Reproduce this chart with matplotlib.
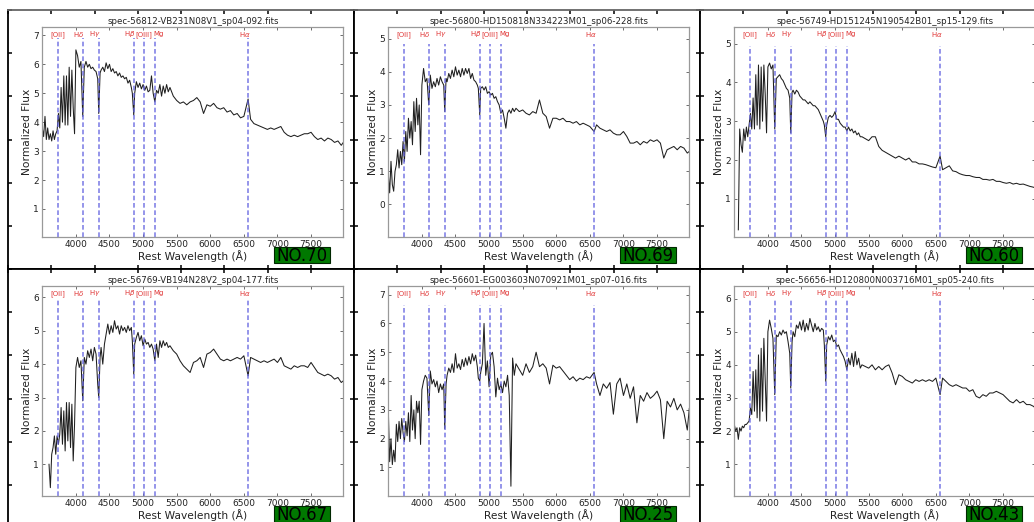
import numpy as np
import matplotlib
matplotlib.use('Agg')
import matplotlib.pyplot as plt
from matplotlib.patches import Rectangle
from matplotlib.ticker import MultipleLocator

nan = np.nan

# rest wavelength grid (A), shared by all six spectra
wave_blue = [3500, 3520, 3540, 3560, 3580, 3600, 3620, 3640, 3660, 3680,
             3700, 3720, 3740, 3760, 3780, 3800, 3820, 3840, 3860, 3880,
             3900, 3920, 3940, 3960, 3980]
wave_mid = [4000, 4025, 4050, 4075, 4102, 4125, 4150, 4175, 4200, 4225,
            4250, 4275, 4300, 4325, 4340, 4360, 4375, 4400, 4425, 4450,
            4475, 4500, 4525, 4550, 4575, 4600, 4625, 4650, 4675, 4700,
            4725, 4750, 4775, 4800, 4825, 4840, 4861, 4875, 4900, 4925,
            4950, 4975, 5000, 5025, 5050, 5075, 5100, 5125, 5150, 5175,
            5200, 5225, 5250, 5275, 5300, 5325, 5350, 5375, 5400]
wave_red = [5450, 5500, 5550, 5600, 5650, 5700, 5750, 5800, 5850, 5900,
            5950, 6000, 6050, 6100, 6150, 6200, 6250, 6300, 6350, 6400,
            6450, 6500, 6563, 6600, 6650, 6700, 6750, 6800, 6850, 6900,
            6950, 7000, 7050, 7100, 7150, 7200, 7250, 7300, 7350, 7400,
            7450, 7500, 7550, 7600, 7650, 7700, 7750, 7800, 7850, 7900,
            7950, 7980]
wave = wave_blue + wave_mid + wave_red

flux_70 = [3.8, 3.5, 4.2, 3.4, 3.8, 3.4, 3.6, 3.35, 3.7, 3.4,
           3.6, 3.7, 4.3, 3.8, 5.2, 4.0, 5.6, 3.9, 5.6, 3.9,
           5.9, 4.2, 5.8, 4.5, 3.6,
           6.5, 6.3, 5.9, 6.1, 4.2, 5.9, 6.1, 5.9, 6.0, 5.85,
           5.9, 5.8, 5.75, 5.5, 4.3, 5.7, 5.8, 5.9, 5.75, 6.05,
           5.85, 6.0, 5.75, 5.85, 5.7, 5.75, 5.6, 5.7, 5.55, 5.6,
           5.5, 5.55, 5.35, 5.45, 5.2, 5.0, 4.25, 5.0, 5.4, 5.2,
           5.35, 5.15, 5.3, 5.1, 5.25, 5.05, 5.1, 5.6, 5.0, 4.7,
           5.1, 5.0, 5.3, 4.9, 5.25, 5.0, 5.3, 5.05, 5.2,
           4.9, 4.75, 4.65, 4.7, 4.6, 4.7, 4.75, 4.85, 4.7, 4.3,
           4.6, 4.55, 4.65, 4.5, 4.45, 4.5, 4.35, 4.4, 4.25, 4.3,
           4.15, 4.2, 4.8, 4.1, 3.95, 3.9, 3.85, 3.8, 3.75, 3.8,
           3.75, 3.8, 3.85, 3.65, 3.55, 3.5, 3.55, 3.5, 3.55, 3.6,
           3.6, 3.65, 3.5, 3.4, 3.45, 3.35, 3.45, 3.4, 3.3, 3.35,
           3.2, 3.3]

flux_69 = [0.93, 0.35, 1.3, 0.6, 0.4, 1.0, 1.2, 1.65, 1.1, 1.6,
           1.2, 1.9, 1.3, 2.2, 1.6, 2.6, 2.0, 2.5, 1.8, 3.1,
           2.2, 3.2, 2.4, 3.0, 1.5,
           3.6, 4.1, 3.7, 3.8, 3.0, 3.9, 3.5, 3.7, 3.55, 3.8,
           3.6, 3.85, 3.7, 3.6, 2.8, 3.8, 3.7, 3.95, 3.8, 4.05,
           3.85, 4.15, 3.9, 4.05, 3.85, 4.1, 3.9, 4.1, 3.95, 4.1,
           3.8, 3.95, 3.75, 3.7, 3.6, 3.5, 2.7, 3.5, 3.55, 3.45,
           3.55, 3.35, 3.4, 3.3, 3.35, 3.2, 3.25, 3.1, 3.0, 2.75,
           2.85, 2.6, 2.3, 2.75, 2.85, 2.75, 2.9, 2.8, 2.9,
           2.8, 2.85, 2.75, 2.7, 2.8, 2.75, 3.15, 2.75, 2.65, 2.3,
           2.6, 2.6, 2.55, 2.6, 2.5, 2.5, 2.45, 2.5, 2.4, 2.45,
           2.4, 2.35, 2.2, 2.4, 2.3, 2.25, 2.2, 2.25, 2.15, 2.1,
           2.1, 2.2, 2.05, 1.85, 1.85, 1.9, 1.8, 1.9, 1.85, 1.95,
           1.9, 1.95, 1.85, 1.4, 1.65, 1.7, 1.75, 1.65, 1.75, 1.7,
           1.55, 1.6]

flux_60 = [nan, nan, nan, 0.2, 2.8, 2.4, 2.2, 2.8, 2.5, 2.85,
           2.6, 2.9, 3.2, 2.8, 3.6, 2.8, 4.2, 2.9, 4.45, 2.8,
           4.4, 3.0, 4.45, 3.7, 2.7,
           4.4, 4.5, 4.35, 4.45, 2.8, 4.1, 4.15, 4.2, 4.1, 4.05,
           3.95, 3.85, 3.8, 3.6, 2.7, 3.75, 3.8, 3.7, 3.8, 3.75,
           3.65, 3.6, 3.55, 3.55, 3.5, 3.45, 3.5, 3.45, 3.4, 3.4,
           3.35, 3.3, 3.2, 3.1, 3.0, 2.9, 2.6, 2.9, 3.1, 3.15,
           3.1, 3.15, 3.25, 3.05, 3.05, 2.95, 2.9, 2.85, 2.85, 2.75,
           2.85, 2.75, 2.8, 2.7, 2.75, 2.65, 2.7, 2.6, 2.6,
           2.55, 2.5, 2.6, 2.6, 2.35, 2.25, 2.2, 2.15, 2.1, 2.05,
           2.1, 2.05, 2.0, 2.05, 1.95, 1.95, 1.9, 1.9, 1.88, 1.85,
           1.82, 1.8, 2.1, 1.75, 1.8, 1.85, 1.72, 1.7, 1.65, 1.62,
           1.6, 1.6, 1.57, 1.55, 1.55, 1.5, 1.5, 1.48, 1.5, 1.45,
           1.45, 1.42, 1.4, 1.42, 1.38, 1.4, 1.37, 1.38, 1.35, 1.32,
           1.3, 1.28]

flux_67 = [nan, nan, nan, nan, nan, 1.0, 0.3, 1.3, 1.5, 1.85,
           1.3, 1.85, 1.6, 1.9, 2.7, 1.6, 2.6, 1.4, 2.85, 1.7,
           2.85, 1.5, 2.8, 1.1, 2.2,
           3.9, 4.2, 3.9, 4.1, 2.9, 4.2, 4.0, 4.4, 4.2, 4.45,
           4.1, 4.5, 4.3, 3.4, 3.0, 4.2, 4.5, 4.0, 4.6, 4.9,
           5.2, 4.9, 5.15, 4.95, 5.3, 5.05, 5.15, 4.9, 5.15, 5.0,
           5.1, 4.95, 5.15, 5.0, 5.1, 4.7, 3.7, 4.6, 4.8, 4.95,
           4.7, 4.85, 4.55, 4.75, 4.6, 4.65, 4.5, 4.6, 4.45, 4.1,
           4.6, 4.2, 4.7, 4.5, 4.7, 4.55, 4.65, 4.5, 4.55,
           4.4, 4.3, 4.1, 3.95, 3.85, 3.75, 4.05, 4.1, 4.2, 3.9,
           4.3, 4.35, 4.45, 4.3, 4.15, 4.1, 4.15, 4.1, 4.15, 4.2,
           4.15, 4.25, 3.65, 4.2, 4.15, 4.1, 4.05, 4.1, 4.05, 4.1,
           4.15, 4.05, 4.2, 3.95, 3.9, 3.85, 3.95, 3.9, 3.95, 3.95,
           3.9, 4.05, 3.9, 3.75, 3.7, 3.65, 3.7, 3.65, 3.55, 3.6,
           3.45, 3.5]

flux_25 = [3.0, 1.2, 2.0, 1.1, 1.6, 1.2, 2.5, 1.9, 2.6, 2.0,
           2.7, 2.2, 1.9, 2.6, 2.1, 2.9, 1.9, 3.5, 2.3, 3.0,
           2.0, 3.3, 2.9, 3.3, 1.8,
           3.7, 4.0, 4.2, 4.1, 2.8, 4.35, 3.9, 4.05, 3.8, 4.0,
           3.6, 3.9, 3.7, 3.9, 2.35, 3.9, 4.2, 4.45, 4.3, 4.6,
           4.3, 4.95, 4.45, 4.6, 4.4, 4.75, 4.5, 4.8, 4.55, 4.85,
           4.6, 4.95, 4.7, 4.9, 4.5, 4.1, 4.0, 4.3, 4.6, 6.0,
           4.2, 4.7, 3.8, 4.9, 5.0, 4.5, 3.45, 4.1, 3.7, 3.9,
           3.6, 4.0, 3.8, 4.2, 3.5, 0.35, 4.8, 4.2, 4.6,
           4.4, 4.2, 4.6, 4.3, 4.5, 5.0, 4.5, 4.6, 4.45, 3.9,
           4.55, 4.45, 4.5, 4.35, 4.2, 4.05, 4.15, 4.0, 4.1, 4.05,
           4.15, 4.1, 4.3, 3.9, 3.5, 3.9, 3.75, 3.95, 2.85, 3.9,
           4.1, 3.5, 3.9, 3.4, 3.8, 2.55, 3.5, 3.3, 3.6, 3.4,
           3.5, 3.65, 3.35, 2.0, 3.3, 3.1, 3.4, 3.0, 3.2, 2.9,
           2.3, 3.05]

flux_43 = [2.2, 2.0, 2.1, 1.75, 2.1, 2.0, 2.15, 2.1, 2.2, 2.2,
           2.25, 2.3, 2.7, 2.5, 3.8, 2.6, 3.85, 2.4, 4.3, 2.3,
           4.5, 2.6, 4.8, 3.5, 2.3,
           5.0, 5.35, 5.1, 4.8, 3.1, 4.9, 4.85, 5.0, 4.9, 5.05,
           4.95, 5.0, 4.7, 4.35, 3.3, 4.7, 5.0, 4.85, 5.2, 5.1,
           5.3, 5.05, 5.35, 5.0, 5.25, 5.05, 5.4, 5.2, 5.0, 5.25,
           5.05, 5.15, 5.0, 5.1, 5.05, 4.6, 3.5, 4.6, 4.85, 4.75,
           4.9, 4.7, 4.75, 4.55, 4.6, 4.45, 4.35, 4.25, 4.1, 3.85,
           4.2, 4.0, 4.35, 3.95, 4.4, 4.0, 4.2, 3.9, 4.0,
           3.95, 3.9, 4.0, 3.85, 3.95, 3.85, 3.95, 4.0, 3.75, 3.4,
           3.7, 3.65, 3.55, 3.5, 3.45, 3.55, 3.5, 3.55, 3.5, 3.55,
           3.5, 3.6, 3.1, 3.6, 3.5, 3.4, 3.35, 3.4, 3.35, 3.3,
           3.3, 3.2, 3.25, 3.05, 3.0, 3.1, 3.05, 3.15, 3.15, 3.2,
           3.15, 3.1, 3.0, 2.9, 2.85, 2.95, 2.85, 2.9, 2.8, 2.8,
           2.75, 2.7]

fits_names = ['spec-56812-VB231N08V1_sp04-092.fits',
              'spec-56800-HD150818N334223M01_sp06-228.fits',
              'spec-56749-HD151245N190542B01_sp15-129.fits',
              'spec-56769-VB194N28V2_sp04-177.fits',
              'spec-56601-EG003603N070921M01_sp07-016.fits',
              'spec-56656-HD120800N003716M01_sp05-240.fits']
rank_labels = ['NO.70', 'NO.69', 'NO.60', 'NO.67', 'NO.25', 'NO.43']
spectra = [flux_70, flux_69, flux_60, flux_67, flux_25, flux_43]
y_limits = [(0.03, 7.29), (-0.98, 5.35), (0.015, 5.43),
            (0.05, 6.34), (0.01, 7.3), (0.04, 6.38)]
line_tops = [0.95, 0.92, 0.91, 0.94, 0.91, 0.94]

# spectral lines marked on every panel
line_waves = [3727, 4102, 4340, 4861, 5007, 5175, 6563]
line_names = ['[OII]', r'H$\delta$', r'H$\gamma$', r'H$\beta$', '[OIII]', 'Mg', r'H$\alpha$']
line_ha = ['center', 'right', 'right', 'right', 'center', 'left', 'right']
line_dx = [0, 20, 35, 20, 0, -15, 40]

W, H = 1034, 522
fig = plt.figure(figsize=(W / 100, H / 100), dpi=100)


def px_rect(left, top, width, height):
    # pixel box -> figure fraction
    return [left / W, 1 - (top + height) / H, width / W, height / H]


# outer frame cells with ticks
for r in range(2):
    for c in range(3):
        ax0 = fig.add_axes(px_rect(8 + 346 * c, 10 + 259 * r, 346, 259))
        ax0.set_xlim(0, 8)
        ax0.set_ylim(0, 6)
        ax0.set_xticks(range(9))
        ax0.set_yticks(range(7))
        ax0.tick_params(direction='in', length=3, width=1.1, top=True, right=True,
                        labelleft=False, labelbottom=False, color='black')
        for s in ax0.spines.values():
            s.set_linewidth(1.3)
            s.set_color('black')
        if r == 0:
            ax0.spines['top'].set_color('#666666')

# spectrum panels
for i in range(6):
    r, c = divmod(i, 3)
    ax = fig.add_axes(px_rect(42.3 + 346 * c, 27 + 259 * r, 301, 210))
    ax.plot(wave, spectra[i], color='#1f1f1f', lw=0.75)
    ax.set_xlim(3500, 7980)
    ax.set_ylim(*y_limits[i])
    ax.set_xticks([4000, 4500, 5000, 5500, 6000, 6500, 7000, 7500])
    ax.yaxis.set_major_locator(MultipleLocator(1))
    ax.tick_params(direction='in', length=2.5, width=0.6, labelsize=6.5, pad=2.5,
                   top=True, right=True, color='#555555', labelcolor='#222222')
    for s in ax.spines.values():
        s.set_color('#999999')
        s.set_linewidth(0.9)
    ax.set_title(fits_names[i], fontsize=6.2, pad=2.5, color='#222222')
    ax.set_ylabel('Normalized Flux', fontsize=7.7, labelpad=1, color='#222222')
    ax.set_xlabel('Rest Wavelength (\u00c5)', fontsize=7.7, labelpad=0.5, color='#222222')

    for lw_, name, ha, dx in zip(line_waves, line_names, line_ha, line_dx):
        ax.axvline(lw_, ymin=0, ymax=line_tops[i], color='#6464e0', alpha=0.8,
                   lw=1.2, linestyle=(0, (2.8, 1.6)))
        ax.text(lw_ + dx, 0.965, name, transform=ax.get_xaxis_transform(),
                ha=ha, va='center', fontsize=5, color='#e03535')

    ax.add_patch(Rectangle((0.7705, -0.124), 0.186, 0.076, transform=ax.transAxes,
                           facecolor='#007800', edgecolor='#002800', lw=0.8,
                           clip_on=False, zorder=5))
    ax.text(0.864, -0.115, rank_labels[i], transform=ax.transAxes, ha='center',
            va='baseline', fontsize=12, color='black', zorder=6, clip_on=False)

fig.savefig('out.png', dpi=100)
